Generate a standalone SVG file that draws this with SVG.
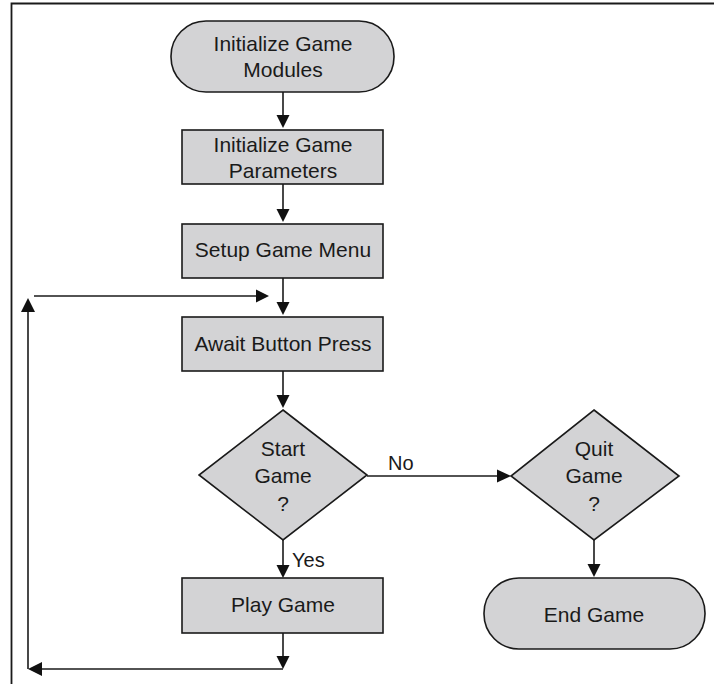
<svg xmlns="http://www.w3.org/2000/svg" width="714" height="684" viewBox="0 0 714 684">
<style>
.n{fill:#d3d3d5;stroke:#1a1a1a;stroke-width:1.6}
.t{font-family:"Liberation Sans",Arial,sans-serif;font-size:21px;fill:#1a1a1a;text-anchor:middle}
.l{font-family:"Liberation Sans",Arial,sans-serif;font-size:20px;fill:#1a1a1a}
.c{fill:none;stroke:#1a1a1a;stroke-width:1.6}
.h{fill:#111;stroke:none}
</style>
<rect width="714" height="684" fill="#fff"/>
<path d="M11.5 684 V3.5 H714" fill="none" stroke="#1a1a1a" stroke-width="1.8"/>

<g id="connectors">
  <path class="c" d="M283 92 V116"/>
  <path class="h" d="M276.5 115 L289.5 115 L283 128 Z"/>
  <path class="c" d="M283 184 V210"/>
  <path class="h" d="M276.5 209 L289.5 209 L283 222 Z"/>
  <path class="c" d="M283 278 V303"/>
  <path class="h" d="M276.5 302 L289.5 302 L283 315 Z"/>
  <path class="c" d="M34 296 H258"/>
  <path class="h" d="M256 289.5 L256 302.5 L269 296 Z"/>
  <path class="c" d="M283 371 V396"/>
  <path class="h" d="M276.5 395 L289.5 395 L283 408 Z"/>
  <path class="c" d="M283 540 V566"/>
  <path class="h" d="M276.5 565 L289.5 565 L283 578 Z"/>
  <path class="c" d="M283 633 V657"/>
  <path class="h" d="M276.5 656 L289.5 656 L283 669 Z"/>
  <path class="c" d="M283 669 H40"/>
  <path class="h" d="M42 662 L42 676 L28 669 Z"/>
  <path class="c" d="M28 669 V310"/>
  <path class="h" d="M21 312 L35 312 L28 298 Z"/>
  <path class="c" d="M367 476 H499"/>
  <path class="h" d="M497 469.5 L497 482.5 L511 476 Z"/>
  <path class="c" d="M594 540 V565"/>
  <path class="h" d="M587.5 564 L600.5 564 L594 577 Z"/>
  <text class="l" x="388" y="470">No</text>
  <text class="l" x="292" y="567">Yes</text>
</g>

<g id="init-modules">
  <rect class="n" x="171" y="21" width="223" height="71" rx="35" ry="35"/>
  <text class="t" x="283" y="51">Initialize Game</text>
  <text class="t" x="283" y="77">Modules</text>
</g>
<g id="init-params">
  <rect class="n" x="182" y="130" width="201" height="54"/>
  <text class="t" x="283" y="152">Initialize Game</text>
  <text class="t" x="283" y="178">Parameters</text>
</g>
<g id="setup-menu">
  <rect class="n" x="182" y="224" width="201" height="54"/>
  <text class="t" x="283" y="257">Setup Game Menu</text>
</g>
<g id="await-button">
  <rect class="n" x="182" y="317" width="201" height="54"/>
  <text class="t" x="283" y="351">Await Button Press</text>
</g>
<g id="start-game">
  <polygon class="n" points="283,410 367,475 283,540 199,475"/>
  <text class="t" x="283" y="456">Start</text>
  <text class="t" x="283" y="483">Game</text>
  <text class="t" x="283" y="511">?</text>
</g>
<g id="play-game">
  <rect class="n" x="182" y="578" width="201" height="55"/>
  <text class="t" x="283" y="612">Play Game</text>
</g>
<g id="quit-game">
  <polygon class="n" points="594,410 679,476 594,540 511,476"/>
  <text class="t" x="594" y="456">Quit</text>
  <text class="t" x="594" y="483">Game</text>
  <text class="t" x="594" y="511">?</text>
</g>
<g id="end-game">
  <rect class="n" x="484" y="578" width="221" height="71" rx="35" ry="35"/>
  <text class="t" x="594" y="622">End Game</text>
</g>
</svg>
